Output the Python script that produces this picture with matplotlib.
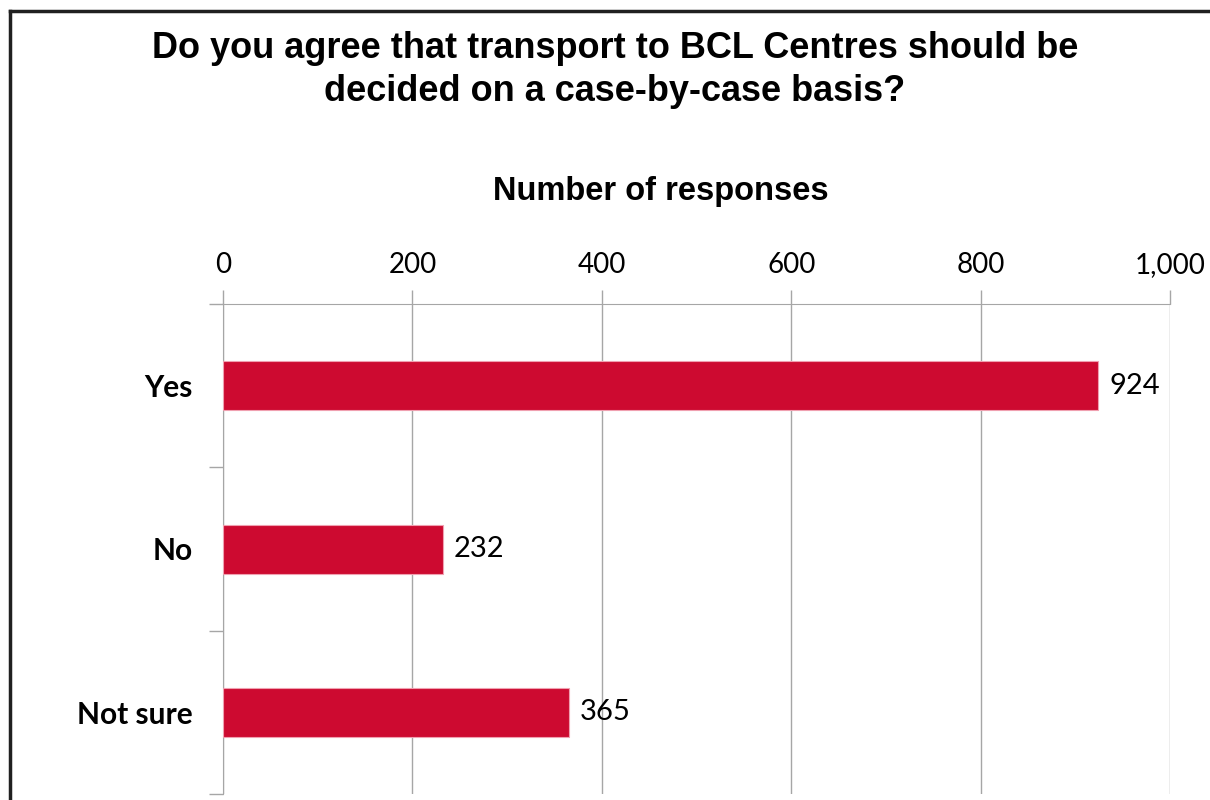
import matplotlib.pyplot as plt
from matplotlib.lines import Line2D
from matplotlib.ticker import FuncFormatter

# Survey answers, top to bottom
answers = ["Yes", "No", "Not sure"]
responses = [924, 232, 365]
x_ticks = [0, 200, 400, 600, 800, 1000]

bar_red = "#CD0A30"
grid_grey = "#A6A6A6"

fig = plt.figure(figsize=(12.1, 8.0), dpi=100)
fig.patch.set_facecolor("white")

# Outer chart frame: only the left and top edges fall inside the canvas
fx, fy = 9.5 / 1210, 1 - 11 / 800
fig.lines.append(Line2D([fx, fx], [-0.05, fy], transform=fig.transFigure,
                        color="#202020", linewidth=2.5))
fig.lines.append(Line2D([fx, 1.05], [fy, fy], transform=fig.transFigure,
                        color="#202020", linewidth=2.5))

ax = fig.add_axes([223 / 1210, 1 - 794 / 800, (1170 - 223) / 1210, (794 - 304) / 800])

ypos = list(range(len(answers)))
ax.barh(ypos, responses, height=0.3, color=bar_red, edgecolor="#F0A0B0",
        linewidth=0.8, zorder=3)

ax.set_xlim(0, 1000)
ax.set_ylim(len(answers) - 0.5, -0.5)

# Value axis on top, light vertical gridlines
ax.xaxis.tick_top()
ax.xaxis.set_label_position("top")
ax.set_xticks(x_ticks)
ax.xaxis.set_major_formatter(FuncFormatter(lambda v, p: f"{int(v):,}"))
ax.grid(axis="x", color=grid_grey, linewidth=1.0, zorder=0)
ax.tick_params(axis="x", length=10, width=1.0, color=grid_grey, pad=9,
               labelsize=20)
for lab in ax.get_xticklabels():
    lab.set_fontfamily("Lato")

# Category axis: labels at bar centres, tick marks between categories
ax.set_yticks(ypos)
ax.set_yticklabels(answers, fontfamily="Lato", fontweight="bold", fontsize=21.5)
ax.tick_params(axis="y", length=0, pad=22)
ax.set_yticks([i - 0.5 for i in range(len(answers) + 1)], minor=True)
ax.tick_params(axis="y", which="minor", length=10, width=1.0, color=grid_grey)

for side in ["right", "bottom"]:
    ax.spines[side].set_visible(False)
ax.spines["left"].set_color(grid_grey)
ax.spines["top"].set_color(grid_grey)

# Data labels
for y, v in zip(ypos, responses):
    ax.annotate(f"{v}", (v, y), xytext=(8, 0), textcoords="offset points",
                va="center", ha="left", fontsize=21, fontfamily="Lato",
                zorder=4)

ax.set_xlabel("Number of responses", fontsize=23.5, fontweight="bold",
              fontfamily="Liberation Sans")
ax.xaxis.set_label_coords((661 - 223) / (1170 - 223), (794 - 192) / (794 - 304))
ax.xaxis.label.set_verticalalignment("center")

fig.text(615 / 1210, 1 - 70 / 800,
         "Do you agree that transport to BCL Centres should be\n"
         "decided on a case-by-case basis?",
         ha="center", va="center", fontsize=26, fontweight="bold",
         fontfamily="Liberation Sans", linespacing=1.32)

fig.savefig("out.png", dpi=100, facecolor="white")
